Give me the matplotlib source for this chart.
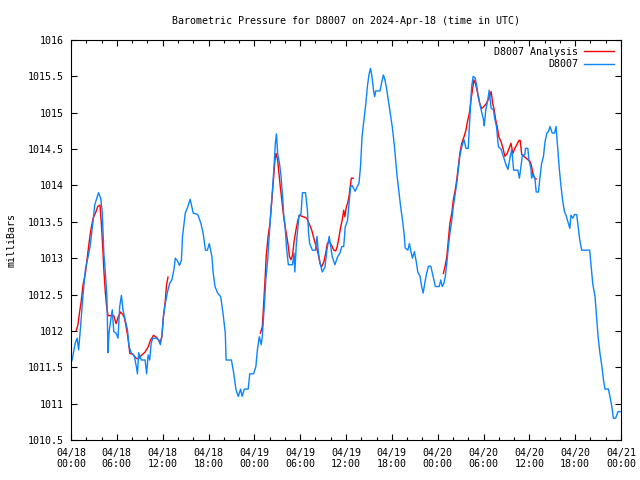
import numpy as np
import matplotlib
matplotlib.use("Agg")
import matplotlib.pyplot as plt
from matplotlib.ticker import MultipleLocator

# hours since 2024-04-18 00:00 UTC, pressure in milliBars
obs_hours = [
    0.13, 0.4, 0.55, 0.8, 1.0, 1.2, 1.57, 1.88, 2.2, 2.5, 2.9, 3.1, 3.3, 3.6, 3.9,
    4.1, 4.3, 4.5, 4.7, 4.85, 4.97, 5.2, 5.4, 5.6, 5.9, 6.15, 6.37, 6.6, 6.8, 7.1,
    7.4, 7.6, 7.9, 8.3, 8.55, 8.7, 8.86, 9.2, 9.7, 9.9, 10.1, 10.3, 10.5, 10.7, 11.2,
    11.5, 11.7, 11.9, 12.1, 12.35, 12.6, 12.9, 13.2, 13.5, 13.65, 13.9, 14.2, 14.45,
    14.6, 14.8, 14.96, 15.3, 15.6, 16.0, 16.6, 17.0, 17.3, 17.6, 17.85, 18.1, 18.45,
    18.6, 18.85, 19.2, 19.6, 19.9, 20.2, 20.3, 21.0, 21.3, 21.6, 21.9, 22.2, 22.4,
    22.7, 23.2, 23.4, 23.9, 24.2, 24.4, 24.65, 24.9, 25.05, 25.3, 25.5, 25.75,
    25.95, 26.2, 26.4, 26.6, 26.75, 26.9, 27.05, 27.3, 27.5, 27.7, 27.85, 28.0,
    28.2, 28.45, 29.0, 29.2, 29.3, 29.5, 29.7, 29.85, 30.1, 30.3, 30.7, 30.95,
    31.1, 31.25, 31.4, 31.6, 32.0, 32.2, 32.4, 32.6, 32.9, 33.25, 33.5, 33.8, 34.0,
    34.2, 34.55, 34.9, 35.2, 35.45, 35.7, 35.9, 36.2, 36.4, 36.6, 36.8, 37.2, 37.5,
    37.7, 37.9, 38.1, 38.35, 38.6, 38.8, 39.0, 39.2, 39.4, 39.6, 39.75, 39.9, 40.45,
    40.7, 40.9, 41.1, 41.3, 41.6, 41.85, 42.05, 42.3, 42.5, 42.7, 42.9, 43.15, 43.4,
    43.6, 43.75, 44.1, 44.3, 44.5, 44.7, 44.95, 45.15, 45.4, 45.7, 45.9, 46.1, 46.3,
    46.55, 46.8, 47.1, 47.4, 47.7, 48.2, 48.4, 48.6, 48.8, 49.0, 49.2, 49.4, 49.6,
    49.85, 50.05, 50.3, 50.5, 50.7, 50.9, 51.15, 51.45, 51.7, 52.0, 52.15, 52.3,
    52.45, 52.65, 52.9, 53.1, 53.3, 53.5, 53.7, 54.0, 54.1, 54.3, 54.55, 54.75,
    55.0, 55.3, 55.5, 55.7, 55.95, 56.3, 56.6, 56.9, 57.2, 57.5, 57.7, 57.95, 58.5,
    58.7, 58.9, 59.1, 59.4, 59.5, 59.8, 59.95, 60.2, 60.3, 60.5, 60.75, 60.9, 61.2,
    61.4, 61.6, 61.85, 62.05, 62.3, 62.5, 62.7, 63.0, 63.3, 63.5, 63.7, 63.9, 64.1,
    64.35, 64.6, 64.8, 65.1, 65.3, 65.45, 65.7, 65.9, 66.2, 66.4, 66.6, 66.85, 67.9,
    68.1, 68.3, 68.6, 68.8, 69.0, 69.25, 69.5, 69.7, 69.9, 70.35, 70.55, 70.8, 71.0,
    71.3, 71.6, 72.0,
]
obs_mb = [
    1011.59, 1011.74, 1011.83, 1011.9, 1011.74, 1011.99, 1012.49, 1012.84, 1013.0,
    1013.16, 1013.52, 1013.73, 1013.8, 1013.9, 1013.82, 1013.62, 1013.07, 1012.8,
    1012.47, 1011.7, 1011.97, 1012.15, 1012.29, 1011.99, 1011.97, 1011.9, 1012.33,
    1012.49, 1012.29, 1012.15, 1012.01, 1011.78, 1011.7, 1011.65, 1011.51, 1011.41,
    1011.7, 1011.6, 1011.6, 1011.41, 1011.67, 1011.6, 1011.83, 1011.9, 1011.9,
    1011.87, 1011.81, 1011.94, 1012.2, 1012.38, 1012.52, 1012.65, 1012.7, 1012.86,
    1013.0, 1012.97, 1012.9, 1012.97, 1013.3, 1013.48, 1013.62, 1013.71, 1013.81,
    1013.62, 1013.6, 1013.48, 1013.34, 1013.11, 1013.11, 1013.2, 1013.02, 1012.81,
    1012.61, 1012.52, 1012.47, 1012.24, 1011.97, 1011.6, 1011.6, 1011.42, 1011.19,
    1011.1, 1011.2, 1011.1, 1011.2, 1011.2, 1011.41, 1011.41, 1011.51, 1011.74,
    1011.92, 1011.81, 1011.94, 1012.33, 1012.7, 1012.98, 1013.3, 1013.71, 1013.98,
    1014.3, 1014.58, 1014.71, 1014.44, 1014.3, 1014.12, 1013.85, 1013.59, 1013.48,
    1013.16, 1012.91, 1012.91, 1013.07, 1012.81, 1013.2, 1013.43, 1013.59, 1013.6,
    1013.9, 1013.9, 1013.66, 1013.34, 1013.2, 1013.16, 1013.11, 1013.11, 1013.3,
    1013.07, 1012.93, 1012.81, 1012.88, 1013.11, 1013.3, 1013.16, 1013.02, 1012.91,
    1013.02, 1013.07, 1013.16, 1013.16, 1013.43, 1013.52, 1013.75, 1013.98, 1014.0,
    1013.92, 1013.99, 1014.03, 1014.26, 1014.67, 1014.9, 1015.13, 1015.36, 1015.52,
    1015.61, 1015.5, 1015.31, 1015.22, 1015.3, 1015.3, 1015.43, 1015.52, 1015.45,
    1015.34, 1015.13, 1014.95, 1014.81, 1014.58, 1014.35, 1014.12, 1013.94, 1013.71,
    1013.52, 1013.34, 1013.14, 1013.11, 1013.2, 1013.09, 1013.0, 1013.09, 1012.98,
    1012.81, 1012.75, 1012.61, 1012.52, 1012.65, 1012.79, 1012.89, 1012.89, 1012.75,
    1012.61, 1012.61, 1012.7, 1012.61, 1012.65, 1012.75, 1012.93, 1013.16, 1013.34,
    1013.52, 1013.71, 1013.89, 1014.03, 1014.21, 1014.4, 1014.53, 1014.63, 1014.51,
    1014.51, 1014.81, 1015.08, 1015.36, 1015.5, 1015.48, 1015.38, 1015.22, 1015.13,
    1015.04, 1014.9, 1014.82, 1015.04, 1015.17, 1015.31, 1015.06, 1015.04, 1014.9,
    1014.81, 1014.53, 1014.5, 1014.4, 1014.3, 1014.22, 1014.4, 1014.49, 1014.21,
    1014.21, 1014.1, 1014.26, 1014.42, 1014.42, 1014.51, 1014.51, 1014.35, 1014.24,
    1014.1, 1014.17, 1014.08, 1013.91, 1013.91, 1014.12, 1014.3, 1014.4, 1014.6,
    1014.72, 1014.74, 1014.81, 1014.72, 1014.72, 1014.81, 1014.53, 1014.26, 1014.03,
    1013.8, 1013.64, 1013.59, 1013.48, 1013.41, 1013.59, 1013.55, 1013.6, 1013.6,
    1013.43, 1013.25, 1013.11, 1013.11, 1012.88, 1012.65, 1012.47, 1012.2, 1011.92,
    1011.69, 1011.51, 1011.33, 1011.2, 1011.2, 1011.1, 1010.96, 1010.8, 1010.8,
    1010.89, 1010.89,
]

# analysis series, three separate runs (nan = gap)
ana_hours = [
    0.7, 0.9, 1.1, 1.35, 1.57, 1.88, 2.1, 2.35, 2.6, 2.9, 3.2, 3.5, 3.8, 3.97, 4.15,
    4.3, 4.5, 4.67, 4.85, 5.6, 5.9, 6.2, 6.5, 6.8, 7.0, 7.3, 7.5, 7.7, 8.1, 8.55,
    8.86, 9.3, 9.7, 10.1, 10.4, 10.8, 11.2, 11.5, 11.65, 11.9, 12.1, 12.35, 12.5, 12.7,
    np.nan,
    24.8, 25.05, 25.2, 25.4, 25.55, 25.8, 26.05, 26.3, 26.5, 26.7, 26.85, 27.05, 27.2,
    27.4, 27.6, 27.75, 27.9, 28.1, 28.3, 28.45, 28.6, 28.8, 29.0, 29.2, 29.45, 29.7,
    29.9, 30.4, 30.85, 31.15, 31.5, 31.85, 32.15, 32.4, 32.6, 32.8, 33.1, 33.35,
    33.55, 33.8, 34.1, 34.4, 34.65, 34.85, 35.1, 35.3, 35.5, 35.7, 35.85, 36.05,
    36.2, 36.4, 36.5, 36.7, 36.95,
    np.nan,
    48.75, 48.95, 49.2, 49.4, 49.6, 49.85, 50.05, 50.3, 50.5, 50.7, 50.9, 51.15,
    51.45, 51.7, 51.9, 52.15, 52.35, 52.55, 52.75, 52.95, 53.15, 53.35, 53.5, 53.75,
    54.0, 54.4, 54.7, 55.0, 55.2, 55.4, 55.6, 55.8, 56.0, 56.3, 56.6, 56.8, 57.1,
    57.35, 57.6, 57.85, 58.1, 58.4, 58.65, 58.8, 59.0, 59.3, 59.65, 59.85, 60.1,
    60.3, 60.5, 60.7, 60.9,
]
ana_mb = [
    1012.01, 1012.08, 1012.24, 1012.42, 1012.63, 1012.79, 1012.98, 1013.2, 1013.39,
    1013.55, 1013.62, 1013.71, 1013.73, 1013.48, 1013.16, 1012.84, 1012.52, 1012.33,
    1012.21, 1012.21, 1012.1, 1012.2, 1012.26, 1012.22, 1012.18, 1012.01, 1011.87,
    1011.69, 1011.68, 1011.62, 1011.62, 1011.67, 1011.71, 1011.78, 1011.87, 1011.94,
    1011.91, 1011.87, 1011.83, 1011.92, 1012.2, 1012.42, 1012.63, 1012.74,
    np.nan,
    1011.97, 1012.06, 1012.33, 1012.7, 1013.02, 1013.3, 1013.48, 1013.8, 1014.08,
    1014.35, 1014.44, 1014.35, 1014.19, 1013.98, 1013.8, 1013.66, 1013.52, 1013.39,
    1013.27, 1013.16, 1013.02, 1012.98, 1013.04, 1013.23, 1013.39, 1013.52, 1013.59,
    1013.57, 1013.55, 1013.48, 1013.39, 1013.25, 1013.14, 1013.04, 1012.93, 1012.88,
    1012.95, 1013.07, 1013.2, 1013.23, 1013.18, 1013.11, 1013.1, 1013.16, 1013.3,
    1013.43, 1013.52, 1013.66, 1013.57, 1013.71, 1013.75, 1013.85, 1013.94, 1014.1,
    1014.1,
    np.nan,
    1012.79, 1012.88, 1013.02, 1013.25, 1013.48, 1013.62, 1013.8, 1013.94, 1014.08,
    1014.26, 1014.44, 1014.58, 1014.67, 1014.76, 1014.88, 1014.99, 1015.17, 1015.31,
    1015.45, 1015.4, 1015.31, 1015.22, 1015.13, 1015.06, 1015.08, 1015.13, 1015.2,
    1015.29, 1015.13, 1015.04, 1014.9, 1014.81, 1014.67, 1014.6, 1014.49, 1014.4,
    1014.44, 1014.51, 1014.58, 1014.44, 1014.51, 1014.57, 1014.62, 1014.62, 1014.43,
    1014.4, 1014.37, 1014.35, 1014.33, 1014.26, 1014.14, 1014.1, 1014.09,
]

tick_hours = list(range(0, 73, 6))
tick_labels = [
    "04/18\n00:00", "04/18\n06:00", "04/18\n12:00", "04/18\n18:00",
    "04/19\n00:00", "04/19\n06:00", "04/19\n12:00", "04/19\n18:00",
    "04/20\n00:00", "04/20\n06:00", "04/20\n12:00", "04/20\n18:00",
    "04/21\n00:00",
]

plt.rcParams["font.family"] = ["DejaVu Sans Mono"]
fs = 7.2

fig = plt.figure(figsize=(6.4, 4.8), dpi=100)
ax = fig.add_axes([71 / 640, 40 / 480, 550 / 640, 400 / 480])

ax.plot(ana_hours, ana_mb, color="#ff0000", lw=1.0, label="D8007 Analysis")
ax.plot(obs_hours, obs_mb, color="#0a84ff", lw=1.0, label="D8007")

ax.set_xlim(0, 72)
ax.set_ylim(1010.5, 1016)
ax.set_xticks(tick_hours)
ax.set_xticklabels(tick_labels)
ax.xaxis.set_minor_locator(MultipleLocator(2))
ax.yaxis.set_major_locator(MultipleLocator(0.5))
ax.yaxis.set_major_formatter(plt.FuncFormatter(lambda v, p: f"{v:g}"))

ax.tick_params(which="both", direction="in", top=True, right=True,
               labelsize=fs, width=0.8, colors="black")
ax.tick_params(which="major", length=4.5, pad=5.5)
ax.tick_params(which="minor", length=2.2)
for s in ax.spines.values():
    s.set_linewidth(0.8)

ax.set_ylabel("milliBars", fontsize=fs, labelpad=8)
fig.text(346 / 640, 1 - 21 / 480, "Barometric Pressure for D8007 on 2024-Apr-18 (time in UTC)",
         ha="center", va="center", fontsize=fs)

ax.legend(loc="upper right", frameon=False, markerfirst=False, fontsize=fs,
          handlelength=3.0, handletextpad=0.6, labelspacing=0.25,
          borderaxespad=0.3)

fig.savefig("out.png", dpi=100)
